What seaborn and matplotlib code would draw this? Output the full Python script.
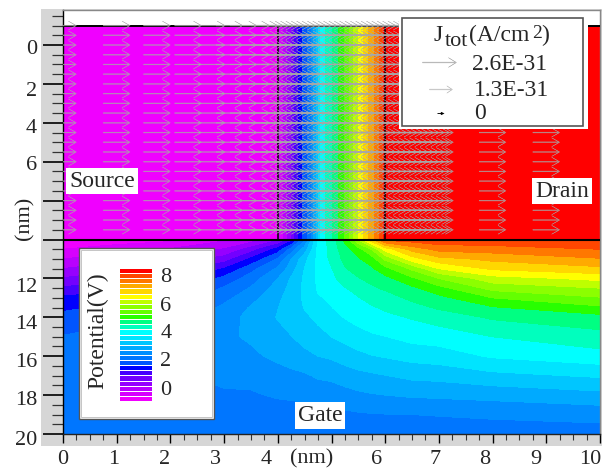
import numpy as np
import matplotlib
matplotlib.use("Agg")
import matplotlib.pyplot as plt
from matplotlib.colors import ListedColormap
from matplotlib.patches import Rectangle
import seaborn as sns

# potential levels (V) and the colour of each band between them
levels = [-0.75, -0.39, -0.03, 0.33, 0.69, 1.05, 1.41, 1.77, 2.13, 2.49, 2.85, 3.21, 3.57, 3.93,
          4.29, 4.65, 5.01, 5.37, 5.73, 6.09, 6.45, 6.81, 7.17, 7.53, 7.89, 8.25, 8.61]
band_colors = ["#f000ff", "#d700ff", "#b900ff", "#9600ff", "#7300ff", "#4600ff", "#0000ff",
               "#0055ff", "#0076ff", "#008eff", "#00aaff", "#00c6ff", "#00e4ff", "#00ffff",
               "#00ffbe", "#00ff82", "#28ff00", "#64ff00", "#8cff00", "#beff00", "#ffff00",
               "#ffd700", "#ffaa00", "#ff7800", "#ff4600", "#ff0000"]

# channel potential (depends on x only)
channel_x = [0, 4, 4.28, 4.4, 4.6, 4.81, 5.19, 5.53, 5.84, 6, 10]
channel_v = [-0.6, -0.45, 0.87, 1.59, 2.31, 4.11, 5.19, 6.63, 7.7, 8.4, 8.45]
channel_y = [-1, 10]

# gate oxide potential, one list per x position
gate_x = [0, 1, 2, 3, 3.5, 4, 4.25, 4.5, 4.75, 5, 5.25, 5.5, 5.75, 6, 6.5, 7, 8, 10]
gate_y = [10, 10.5, 11, 11.5, 12, 12.5, 13, 13.5, 14, 15, 16, 17, 18, 19, 20]
gate_v_0 = [-0.65, -0.39, -0.03, 0.33, 0.72, 1.1, 1.48, 1.7, 1.87, 2.15, 2.25, 2.3, 2.3, 2.25, 2.18]
gate_v_1 = [-0.6, -0.2, 0.2, 0.55, 0.95, 1.3, 1.6, 1.85, 2.05, 2.25, 2.35, 2.37, 2.34, 2.27, 2.18]
gate_v_2 = [-0.5, 0.0, 0.45, 0.85, 1.25, 1.55, 1.85, 2.05, 2.25, 2.42, 2.45, 2.42, 2.36, 2.27, 2.18]
gate_v_3 = [-0.1, 0.35, 0.85, 1.42, 1.87, 2.17, 2.38, 2.57, 2.7, 2.78, 2.72, 2.6, 2.43, 2.3, 2.18]
gate_v_35 = [0.1, 0.85, 1.47, 2.0, 2.3, 2.52, 2.72, 2.88, 2.95, 2.9, 2.78, 2.6, 2.45, 2.3, 2.18]
gate_v_4 = [0.6, 1.55, 2.17, 2.55, 2.85, 3.0, 3.13, 3.2, 3.23, 3.1, 2.93, 2.7, 2.53, 2.32, 2.18]
gate_v_425 = [1.2, 2.25, 2.85, 3.03, 3.25, 3.33, 3.38, 3.38, 3.35, 3.2, 3.03, 2.75, 2.55, 2.33, 2.2]
gate_v_45 = [2.4, 3.03, 3.45, 3.58, 3.63, 3.65, 3.63, 3.59, 3.5, 3.33, 3.12, 2.8, 2.57, 2.35, 2.2]
gate_v_475 = [4.0, 4.02, 4.02, 4.02, 4.0, 3.97, 3.9, 3.75, 3.65, 3.45, 3.21, 2.9, 2.62, 2.38, 2.22]
gate_v_5 = [4.45, 4.42, 4.38, 4.27, 4.2, 4.1, 3.98, 3.92, 3.8, 3.57, 3.27, 2.93, 2.67, 2.4, 2.23]
gate_v_525 = [5.1, 4.88, 4.75, 4.62, 4.45, 4.27, 4.15, 4.05, 3.95, 3.68, 3.38, 3.02, 2.72, 2.42, 2.25]
gate_v_55 = [6.1, 5.2, 4.97, 4.8, 4.63, 4.42, 4.27, 4.15, 4.05, 3.8, 3.47, 3.1, 2.78, 2.45, 2.25]
gate_v_575 = [7.1, 5.75, 5.2, 4.95, 4.75, 4.6, 4.42, 4.25, 4.12, 3.88, 3.55, 3.15, 2.82, 2.47, 2.27]
gate_v_6 = [8.0, 6.6, 5.8, 5.25, 4.9, 4.7, 4.5, 4.35, 4.2, 3.92, 3.6, 3.2, 2.85, 2.48, 2.28]
gate_v_65 = [8.1, 7.3, 6.65, 5.8, 5.3, 4.93, 4.73, 4.52, 4.32, 4.05, 3.7, 3.3, 2.9, 2.49, 2.28]
gate_v_7 = [8.15, 7.65, 7.05, 6.45, 5.73, 5.25, 4.9, 4.7, 4.45, 4.1, 3.75, 3.33, 2.92, 2.51, 2.28]
gate_v_8 = [8.2, 7.7, 7.26, 6.87, 6.3, 5.85, 5.37, 4.97, 4.7, 4.29, 3.97, 3.47, 2.97, 2.55, 2.3]
gate_v_10 = [8.2, 7.89, 7.5, 7.08, 6.55, 6.09, 5.7, 5.3, 4.88, 4.52, 4.15, 3.62, 3.1, 2.62, 2.32]

# current arrows: mesh columns and rows in the channel
arrow_x = [0, 1, 1.75, 2.33, 2.77, 3.1, 3.36, 3.6, 3.75, 3.85, 3.95, 4.05, 4.15, 4.25, 4.35, 4.45,
           4.55, 4.65, 4.75, 4.85, 4.95, 5.05, 5.15, 5.25, 5.35, 5.45, 5.55, 5.65, 5.75, 5.85,
           5.95, 6.05, 6.15, 6.25, 6.35, 6.45, 6.55, 6.65, 6.75, 6.85, 6.95, 7.02, 8, 9]
arrow_y = [-1, -0.5, 0, 0.5, 1, 1.5, 2, 2.5, 3, 3.5, 4, 4.5, 5, 5.5, 6, 6.5, 7, 7.5, 8, 8.5, 9, 9.5]
arrow_len = 0.5

# text
y_labels = ["0", "2", "4", "6", "12", "14", "16", "18", "20"]
x_labels = ["0", "1", "2", "3", "4", "(nm)", "6", "7", "8", "9", "10"]
bar_labels = ["8", "6", "4", "2", "0"]
j_labels = ["2.6E-31", "1.3E-31", "0"]

# where those labels sit in the original (pixels)
y_label_pos = [49, 91, 128, 165, 287, 324, 362, 400, 440]
x_label_pos = [63, 114, 165, 215, 266, 312, 377, 435, 485, 536, 590]
bar_label_pos = [277, 306, 333, 361.5, 390]

sns.set_style("white")
plt.rcParams["font.family"] = ["Liberation Serif", "DejaVu Serif"]

W, H = 605, 473
fig = plt.figure(figsize=(W / 100, H / 100), dpi=100, facecolor="white")
fig.add_artist(Rectangle((41 / W, 1 - 445.5 / H), 561 / W, 436.5 / H, transform=fig.transFigure,
                         facecolor="#d6d6d6", edgecolor="none", zorder=-1))

ax = fig.add_axes([63 / W, 1 - 434 / H, 537 / W, 424 / H], facecolor="white")
ax.set_xlim(0, 10)
ax.set_ylim(20, -1.8)

ax.contourf(channel_x, channel_y, np.array([channel_v, channel_v]), levels=levels, colors=band_colors)
gate_v = np.array([gate_v_0, gate_v_1, gate_v_2, gate_v_3, gate_v_35, gate_v_4, gate_v_425, gate_v_45,
                   gate_v_475, gate_v_5, gate_v_525, gate_v_55, gate_v_575, gate_v_6, gate_v_65,
                   gate_v_7, gate_v_8, gate_v_10]).T
ax.contourf(gate_x, gate_y, gate_v, levels=levels, colors=band_colors)

# device outline
ax.plot([0, 10], [-1, -1], color="black", lw=1.4, zorder=3)
ax.plot([0, 10], [10, 10], color="black", lw=1.5, zorder=3)
ax.plot([4, 4], [-1, 10], color="black", lw=1.1, zorder=3)
ax.plot([6, 6], [-1, 10], color="black", lw=1.1, zorder=3)

# open-headed arrows, quiver draws them centred on the mesh node
qx, qy = np.meshgrid(arrow_x, arrow_y)
ax.quiver(qx, qy, np.full(qx.shape, arrow_len), np.zeros(qx.shape), pivot="mid", angles="xy",
          scale_units="xy", scale=1, units="dots", width=0.8, headwidth=11, headlength=10,
          headaxislength=1.5, color="#a8a8a8", edgecolor="#a8a8a8", linewidth=0.3, alpha=0.75, zorder=4)

ax.set_xticks(range(0, 11))
ax.set_xticks(np.arange(0, 10.01, 0.25), minor=True)
ax.set_yticks(range(0, 21, 2))
ax.set_yticks(np.arange(-1.5, 20.01, 0.5), minor=True)
ax.tick_params(labelbottom=False, labelleft=False)
ax.tick_params(axis="y", which="major", left=True, length=14.4, width=1.2, color="black")
ax.tick_params(axis="y", which="minor", left=True, length=7.9, width=0.9, color="#333333")
ax.tick_params(axis="x", which="major", bottom=True, length=6.5, width=1.0, color="black")
ax.tick_params(axis="x", which="minor", bottom=True, length=4.3, width=0.8, color="#333333")
for side, col in [("left", "black"), ("bottom", "#222222"), ("top", "#888888"), ("right", "#888888")]:
    ax.spines[side].set_color(col)
    ax.spines[side].set_linewidth(1.0)

# overlay in pixel coordinates for labels and the two legend boxes
ov = fig.add_axes([0, 0, 1, 1], zorder=5)
ov.set_xlim(0, W)
ov.set_ylim(H, 0)
ov.axis("off")
ov.patch.set_alpha(0)

for lab, y in zip(y_labels, y_label_pos):
    ov.text(37, y, lab, ha="right", va="center", fontsize=16)
for lab, x in zip(x_labels, x_label_pos):
    ov.text(x, 459, lab, ha="center", va="center", fontsize=16)
ov.text(25, 218, "(nm)", rotation=90, ha="center", va="center", fontsize=16)

box = dict(facecolor="white", edgecolor="none", pad=2.0)
ov.text(102, 181, "Source", ha="center", va="center", fontsize=17, bbox=box)
ov.text(562, 191, "Drain", ha="center", va="center", fontsize=17, bbox=box)
ov.text(320, 415.5, "Gate", ha="center", va="center", fontsize=17, bbox=box)

# potential legend
ov.add_patch(Rectangle((79, 248), 135, 171, facecolor="white", edgecolor="#555555", lw=1.0))
ov.add_patch(Rectangle((81, 250), 131, 167, facecolor="white", edgecolor="#bbbbbb", lw=0.6))
ov.text(98, 331, "Potential(V)", rotation=90, ha="center", va="center", fontsize=17)
for lab, y in zip(bar_labels, bar_label_pos):
    ov.text(166, y, lab, ha="center", va="center", fontsize=16)

cax = fig.add_axes([119 / W, 1 - 401 / H, 33 / W, 133 / H], zorder=6)
band_index = np.arange(len(band_colors))[::-1].reshape(-1, 1)
sns.heatmap(band_index, ax=cax, cmap=ListedColormap(band_colors), vmin=-0.5, vmax=len(band_colors) - 0.5,
            cbar=False, linewidths=0.5, linecolor="white", xticklabels=False, yticklabels=False)

# current legend
ov.add_patch(Rectangle((399, 15), 189, 114, facecolor="white", edgecolor="none"))
ov.add_patch(Rectangle((402, 18), 181, 108, facecolor="white", edgecolor="#555555", lw=1.2))
ov.text(434, 41, "J", ha="left", va="baseline", fontsize=17)
ov.text(445, 46, "tot", ha="left", va="baseline", fontsize=16)
ov.text(469, 41, "(A/cm", ha="left", va="baseline", fontsize=17)
ov.text(532, 38, "2", ha="left", va="baseline", fontsize=14)
ov.text(541, 41, ")", ha="left", va="baseline", fontsize=17)
ov.text(472, 64, j_labels[0], ha="left", va="center", fontsize=17)
ov.text(474, 90, j_labels[1], ha="left", va="center", fontsize=17)
ov.text(474, 113, j_labels[2], ha="left", va="center", fontsize=17)
ov.quiver([422], [62], [34], [0], angles="xy", scale_units="xy", scale=1, units="dots", width=0.8,
          headwidth=12, headlength=10, headaxislength=1.5, color="#b4b4b4", edgecolor="#b4b4b4", linewidth=0.3)
ov.quiver([429], [89], [23], [0], angles="xy", scale_units="xy", scale=1, units="dots", width=0.8,
          headwidth=9, headlength=7, headaxislength=1.5, color="#c4c4c4", edgecolor="#c4c4c4", linewidth=0.3)
ov.quiver([437], [113], [7], [0], angles="xy", scale_units="xy", scale=1, units="dots", width=0.9,
          headwidth=3.5, headlength=3.5, color="black")

fig.savefig("out.png", dpi=100)
